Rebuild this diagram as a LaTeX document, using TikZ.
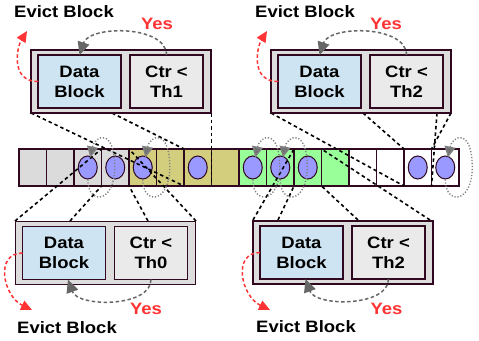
\documentclass[tikz,border=0pt]{standalone}
\usepackage{fontspec}
\setmainfont[FakeStretch=1.12]{Liberation Sans}
\usetikzlibrary{arrows.meta,shapes.geometric}
\definecolor{rim}{RGB}{48,8,32}
\definecolor{datafill}{RGB}{206,228,242}
\definecolor{ctrfill}{RGB}{234,234,234}
\definecolor{boxfill}{RGB}{221,221,221}
\begin{document}
\begin{tikzpicture}[x=1pt, y=-1pt, font=\fontsize{16.5}{20}\selectfont\bfseries,
  cell/.style={draw=rim, line width=1.5pt, minimum width=27.5pt, minimum height=37pt, inner sep=0pt, outer sep=0pt},
  blob/.style={ellipse, draw=rim, fill=blue!40, line width=1pt, minimum width=19pt, minimum height=23pt, inner sep=0pt},
  outer/.style={draw=rim, fill=boxfill, line width=1.6pt, minimum width=180pt, minimum height=63pt, inner sep=0pt, outer sep=0pt},
  datab/.style={draw=rim, fill=datafill, line width=1.5pt, minimum width=83pt, minimum height=53pt, inner sep=0pt, outer sep=0pt, align=center},
  ctrb/.style={datab, fill=ctrfill, minimum width=73pt},
  lens/.style={black, line width=1.6pt, dash pattern=on 3.5pt off 3pt},
  loopline/.style={black!50, line width=1.4pt, dash pattern=on 1.2pt off 1.8pt, -{Triangle[width=11pt,length=11pt,fill=black!55,sep=-2pt]}},
  yesarrow/.style={black!60, line width=1.5pt, dash pattern=on 3.5pt off 2.5pt, -{Triangle[width=12pt,length=13pt,fill=black!60]}},
  evict/.style={red!80, line width=1.5pt, dash pattern=on 3.5pt off 2.5pt, -{Triangle[width=10pt,length=11pt,fill=red!80]}},
  lab/.style={inner sep=0pt},
  yes/.style={inner sep=0pt, text=red!80}]
\useasboundingbox (0,0) rectangle (479,340);
% cache row
\foreach \f [count=\i from 0] in {black!14,black!14,black!14,black!14,olive!40,olive!40,olive!40,olive!40,green!40,green!40,green!40,green!40,white,white,white,white}
  \node[cell, fill=\f] (c\i) at (32.75+27.5*\i,167.5) {};
\foreach \i in {2,3,4,6,8,9,10,14,15} \node[blob] (e\i) at (c\i) {};
% zoom lines
\coordinate (tla) at (112,113);
\coordinate (tra) at (363,113);
\coordinate (trb) at (437,113);
\coordinate (bla) at (70,221);
\coordinate (blb) at (148,221);
\coordinate (bra) at (278,220);
\coordinate (brb) at (358,220);
\coordinate (brc) at (430,220);
\draw[lens] (31,113) -- (c6.south west);
\draw[lens] (tla) -- (c6.north west);
\draw[lens] (211.5,113) -- (c6.south east);
\draw[lens] (271,113) -- (c14.south west);
\draw[lens] (tra) -- (c14.north west);
\draw[lens] (trb) -- (c14.south east);
\draw[lens] (451,113) -- (c14.north east);
\draw[lens] (15,221) -- (c3.north west);
\draw[lens] (bla) -- (c3.south west);
\draw[lens] (blb) -- (c3.south east);
\draw[lens] (196,221) -- (c3.north east);
\draw[lens] (253,220) -- (c10.north west);
\draw[lens] (bra) -- (c10.south west);
\draw[lens] (brb) -- (c10.south east);
\draw[lens] (brc) -- (c10.north east);
% dotted loops
\foreach \i in {2,4,8,9,15}
  \draw[loopline] (e\i.south) .. controls +(0,26) and +(0,36) .. ([xshift=27pt]e\i.center) .. controls +(0,-40) and +(4,-20) .. ([xshift=3pt]e\i.north);
% blown-up blocks
\foreach \n/\x/\y/\t in {tl/121/81.5/Th1, tr/361/81.5/Th2, bl/105.5/253/Th0, br/343/252.5/Th2} {
  \node[outer] (box\n) at (\x,\y) {};
  \node[datab] (data\n) at (\x-41.5,\y) {Data\\Block};
  \node[ctrb] (ctr\n) at (\x+45.5,\y) {Ctr <\\\t};
}
% yes arrows
\foreach \n in {tl,tr} \draw[yesarrow] (ctr\n.north) .. controls +(0,-30) and +(10,-30) .. (data\n.north);
\foreach \n in {bl,br} \draw[yesarrow] (ctr\n.south) .. controls +(0,28) and +(10,28) .. ([xshift=4pt]data\n.south);
\node[yes] (yestl) at (157,24) {Yes};
\node[yes] (yestr) at (386,24) {Yes};
\node[yes] (yesbl) at (146,308.5) {Yes};
\node[yes] (yesbr) at (386.5,308.5) {Yes};
% evict arrows
\coordinate (ptl) at (27,31);
\coordinate (ptr) at (267,31);
\coordinate (pbl) at (32,310);
\coordinate (pbr) at (270,310);
\draw[evict] (datatl.west) .. controls +(-28,0) and +(-10,16) .. (ptl);
\draw[evict] (datatr.west) .. controls +(-28,0) and +(-10,16) .. (ptr);
\draw[evict] (databl.west) .. controls +(-28,0) and +(-29,-14) .. (pbl);
\draw[evict] (databr.west) .. controls +(-28,0) and +(-29,-14) .. (pbr);
\node[lab] (evtl) at (64,11.5) {Evict Block};
\node[lab] (evtr) at (305,11.5) {Evict Block};
\node[lab] (evbl) at (67,327.5) {Evict Block};
\node[lab] (evbr) at (306,327) {Evict Block};
\end{tikzpicture}
\end{document}
